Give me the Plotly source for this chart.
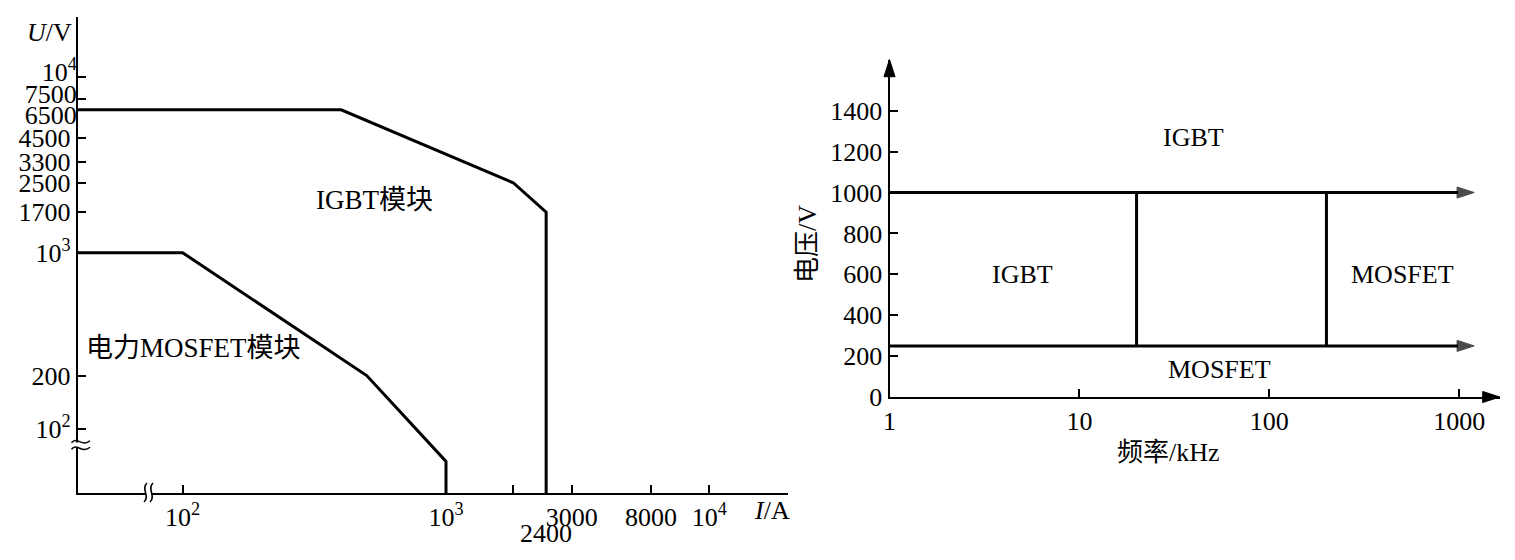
import numpy as np
import plotly.graph_objects as go

W, H = 1515, 560
FONT = "Liberation Serif, Noto Sans CJK SC, serif"

# ---------------- left chart: module voltage / current ratings ----------------
I_ORIGIN = 40            # A at the (broken) origin of the current axis
U_ORIGIN = 43            # V at the (broken) origin of the voltage axis
I_AXIS_END = 10 ** 4.30  # A at the arrow tip
U_AXIS_END = 10 ** 4.342 # V at the arrow tip

igbt_I = [I_ORIGIN, 400, 1800, 2400, 2400]
igbt_U = [6500, 6500, 2500, 1700, U_ORIGIN]
mos_I = [I_ORIGIN, 100, 500, 1000, 1000]
mos_U = [1000, 1000, 200, 65, U_ORIGIN]

u_tick_vals = [100, 200, 1000, 1700, 2500, 3300, 4500]
u_tick_text = ["10<sup>2</sup>", "200", "10<sup>3</sup>", "1700", "2500", "3300", "4500"]
u_tick_vals_hi = [7500, 10000]          # labels nudged up (crowded top of the scale)
u_tick_text_hi = ["7500", "10<sup>4</sup>"]
u_tick_vals_mid = [6500]                # label nudged down
u_tick_text_mid = ["6500"]

# the source draws its "8000" mark where 6000 falls on the log scale
i_tick_vals = [100, 1000, 3000, 6000, 10000]
i_tick_text = ["10<sup>2</sup>", "10<sup>3</sup>", "3000", "8000", "10<sup>4</sup>"]
i_tick_vals_plain = [1800, 2400]        # tick marks without a label on the axis line
i_low_label = ("2400", 2400)

left_labels = [("IGBT模块", 537, 1995), ("电力MOSFET模块", 110, 287)]

# ---------------- right chart: voltage vs switching frequency ----------------
F_ORIGIN = 1
F_AXIS_END = 10 ** 3.214
V_AXIS_END = 1650
f_tick_vals = [1, 10, 100, 1000]
f_tick_text = ["1", "10", "100", "1000"]
v_tick_vals = [0, 200, 400, 600, 800, 1000, 1200, 1400]

boundary_f = [1, 1200]       # kHz, horizontal boundaries (with arrows)
upper_V = 1000
lower_V = 250
split_f = [20, 200]          # kHz, vertical boundaries
region_labels = [("IGBT", 40, 1270), ("IGBT", 5, 600),
                 ("MOSFET", 500, 600), ("MOSFET", 55, 135)]

LW = 3
AXW = 2
ARROW = 18
ARROW_LINE = dict(color="black", width=1)

fig = go.Figure()

# left curves
fig.add_trace(go.Scatter(x=igbt_I, y=igbt_U, mode="lines",
                         line=dict(color="black", width=LW), xaxis="x", yaxis="y"))
fig.add_trace(go.Scatter(x=mos_I, y=mos_U, mode="lines",
                         line=dict(color="black", width=LW), xaxis="x", yaxis="y"))
# left axis arrowheads
fig.add_trace(go.Scatter(x=[I_AXIS_END, I_ORIGIN], y=[U_ORIGIN, U_AXIS_END], mode="markers",
                         marker=dict(symbol="arrow", size=ARROW, angle=[90, 0], color="black",
                                     line=ARROW_LINE),
                         cliponaxis=False, xaxis="x", yaxis="y"))
# invisible anchors so the overlay tick axes are drawn
for xa, ya in (("x3", "y3"), ("x", "y4")):
    fig.add_trace(go.Scatter(x=[I_ORIGIN], y=[U_ORIGIN], mode="markers",
                             marker=dict(opacity=0, size=1), hoverinfo="skip",
                             xaxis=xa, yaxis=ya))

# right boundaries
for v in (upper_V, lower_V):
    fig.add_trace(go.Scatter(x=boundary_f, y=[v, v], mode="lines+markers",
                             line=dict(color="black", width=LW),
                             marker=dict(symbol="arrow", size=[0, ARROW], angleref="previous",
                                         color="black", line=ARROW_LINE),
                             cliponaxis=False, xaxis="x2", yaxis="y2"))
for f in split_f:
    fig.add_trace(go.Scatter(x=[f, f], y=[lower_V, upper_V], mode="lines",
                             line=dict(color="black", width=LW), xaxis="x2", yaxis="y2"))
# right axis arrowheads
fig.add_trace(go.Scatter(x=[F_AXIS_END, F_ORIGIN], y=[0, V_AXIS_END], mode="markers",
                         marker=dict(symbol="arrow", size=ARROW, angle=[90, 0], color="black",
                                     line=ARROW_LINE),
                         cliponaxis=False, xaxis="x2", yaxis="y2"))

axis_common = dict(showline=True, linecolor="black", linewidth=AXW, ticks="inside",
                   ticklen=8, tickwidth=1.5, tickcolor="black", showgrid=False,
                   zeroline=False, automargin=False, tickangle=0,
                   tickfont=dict(family=FONT, size=26, color="black"))
overlay_common = dict(axis_common, showline=False)

x_range = [np.log10(I_ORIGIN), np.log10(I_AXIS_END)]
y_range = [np.log10(U_ORIGIN), np.log10(U_AXIS_END)]

fig.update_layout(
    width=W, height=H, autosize=False,
    margin=dict(l=0, r=0, t=0, b=0, pad=0, autoexpand=False),
    paper_bgcolor="white", plot_bgcolor="white", showlegend=False,
    font=dict(family=FONT, color="black", size=26),
    xaxis=dict(type="log", range=x_range, domain=[0.05135, 0.52040], anchor="y",
               tickvals=i_tick_vals, ticktext=i_tick_text, **axis_common),
    yaxis=dict(type="log", range=y_range, domain=[0.11977, 0.97], anchor="x",
               tickvals=u_tick_vals, ticktext=u_tick_text, **axis_common),
    xaxis3=dict(type="log", range=x_range, overlaying="x", anchor="y", side="bottom",
                tickvals=i_tick_vals_plain, showticklabels=False, **overlay_common),
    yaxis3=dict(type="log", range=y_range, overlaying="y", anchor="x", side="left",
                tickvals=u_tick_vals_hi, ticktext=u_tick_text_hi, ticklabelshift=-5,
                **overlay_common),
    yaxis4=dict(type="log", range=y_range, overlaying="y", anchor="x", side="left",
                tickvals=u_tick_vals_mid, ticktext=u_tick_text_mid, ticklabelshift=5,
                **overlay_common),
    xaxis2=dict(type="log", range=[np.log10(F_ORIGIN), np.log10(F_AXIS_END)],
                domain=[0.58713, 0.98997], anchor="y2",
                tickvals=f_tick_vals, ticktext=f_tick_text, **axis_common),
    yaxis2=dict(type="linear", range=[0, V_AXIS_END],
                domain=[0.29107, 0.89357], anchor="x2",
                tickvals=v_tick_vals, **axis_common),
)

C = dict(showarrow=False, xanchor="center", yanchor="middle")
ann = []
for txt, x, y in left_labels:
    ann.append(dict(text=txt, x=np.log10(x), y=np.log10(y), xref="x", yref="y",
                    font=dict(size=27), **C))
ann.append(dict(text=i_low_label[0], x=np.log10(i_low_label[1]), y=1 - 533 / H,
                xref="x", yref="paper", font=dict(size=26), **C))
ann.append(dict(text="<i>I</i>/A", x=771.7 / W, y=1 - 510 / H, xref="paper", yref="paper",
                font=dict(size=26), **C))
ann.append(dict(text="<i>U</i>/V", x=49 / W, y=1 - 32 / H, xref="paper", yref="paper",
                font=dict(size=26), **C))
for txt, x, y in region_labels:
    ann.append(dict(text=txt, x=np.log10(x), y=y, xref="x2", yref="y2",
                    font=dict(size=26), **C))
ann.append(dict(text="频率/kHz", x=1168 / W, y=1 - 452 / H, xref="paper", yref="paper",
                font=dict(size=26), **C))
ann.append(dict(text="电压/V", x=807 / W, y=1 - 244 / H, xref="paper", yref="paper",
                textangle=-90, font=dict(size=26), **C))
fig.update_layout(annotations=ann)


# axis-break symbols (decoration), given in page pixels
def P(x, y):
    return f"{x / W:.5f},{1 - y / H:.5f}"


shapes = []
# white cuts in the axis lines
shapes.append(dict(type="rect", xref="paper", yref="paper", layer="above",
                   x0=75 / W, x1=82 / W, y0=1 - 447.5 / H, y1=1 - 442.5 / H,
                   fillcolor="white", line=dict(width=0)))
shapes.append(dict(type="rect", xref="paper", yref="paper", layer="above",
                   x0=146 / W, x1=151 / W, y0=1 - 497 / H, y1=1 - 489 / H,
                   fillcolor="white", line=dict(width=0)))
for yc in (441.7, 448.3):
    shapes.append(dict(type="path", xref="paper", yref="paper", layer="above",
                       path=f"M{P(71.5, yc + 1)} C{P(77, yc - 6)} {P(82, yc + 6)} {P(90, yc - 1)}",
                       line=dict(color="black", width=1.5)))
for xc in (145.5, 151.5):
    shapes.append(dict(type="path", xref="paper", yref="paper", layer="above",
                       path=f"M{P(xc + 1.5, 483)} C{P(xc - 5, 489)} {P(xc + 5, 496)} {P(xc - 1.5, 502)}",
                       line=dict(color="black", width=1.5)))
fig.update_layout(shapes=shapes)

fig.write_html("out.html",
               config={"displayModeBar": False},
               post_script="document.body.style.margin='0px';"
                           "document.body.style.overflow='hidden';")
